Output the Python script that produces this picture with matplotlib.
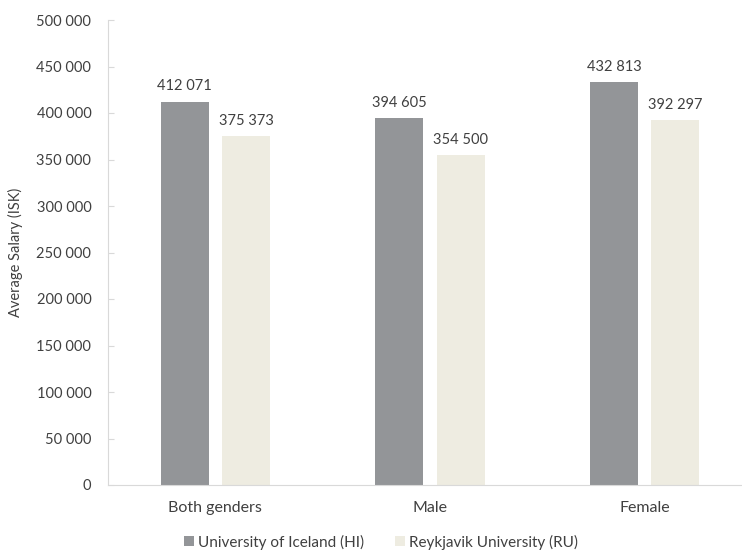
import matplotlib.pyplot as plt
import numpy as np

categories = ["Both genders", "Male", "Female"]
series_names = ["University of Iceland (HI)", "Reykjavik University (RU)"]
hi_values = [412071, 394605, 432813]
ru_values = [375373, 354500, 392297]
ytick_values = [0, 50000, 100000, 150000, 200000, 250000, 300000, 350000, 400000, 450000, 500000]

plt.rcParams['font.family'] = ['Lato', 'DejaVu Sans']
text_color = '#404040'
axis_color = '#d9d9d9'

fig = plt.figure(figsize=(7.42, 5.52), dpi=100)
W, H = 742, 552
ax = fig.add_axes([108 / W, (H - 485) / H, 644 / W, 465 / H])

x = np.arange(len(categories))
width = 0.224
off = 0.143
colors = ['#939598', '#EEECE1']
bars_hi = ax.bar(x - off, hi_values, width, color=colors[0], label=series_names[0])
bars_ru = ax.bar(x + off, ru_values, width, color=colors[1], label=series_names[1])

def fmt(v):
    return f"{v:,}".replace(",", " ")

for bars, vals in ((bars_hi, hi_values), (bars_ru, ru_values)):
    for b, v in zip(bars, vals):
        ax.annotate(fmt(v), (b.get_x() + b.get_width() / 2, v), xytext=(0, 6),
                    textcoords='offset points', ha='center', va='bottom',
                    fontsize=10.5, color=text_color)

ax.set_xlim(-0.5, 2.5)
ax.set_ylim(0, 500000)
ax.set_yticks(ytick_values)
ax.set_yticklabels([fmt(v) for v in ytick_values])
ax.set_xticks(x)
ax.set_xticklabels(categories)
ax.tick_params(axis='both', colors=axis_color, labelcolor=text_color, labelsize=10.5)
ax.tick_params(axis='x', length=0, pad=11.5, labelsize=11.5)
ax.tick_params(axis='y', direction='in', length=4, pad=12)
for s in ('top', 'right'):
    ax.spines[s].set_visible(False)
ax.spines['left'].set_color(axis_color)
ax.spines['bottom'].set_color(axis_color)
ax.set_ylabel("Average Salary (ISK)", fontsize=10.5, color=text_color, labelpad=10)

fig.legend(handles=[bars_hi, bars_ru], labels=series_names, loc='center',
           bbox_to_anchor=(381 / W, 1 - 542 / H), ncol=2, frameon=False,
           fontsize=11, handlelength=0.65, handleheight=0.65, handletextpad=0.26,
           columnspacing=2.0, labelcolor=text_color)

fig.savefig("out.png", dpi=100)
